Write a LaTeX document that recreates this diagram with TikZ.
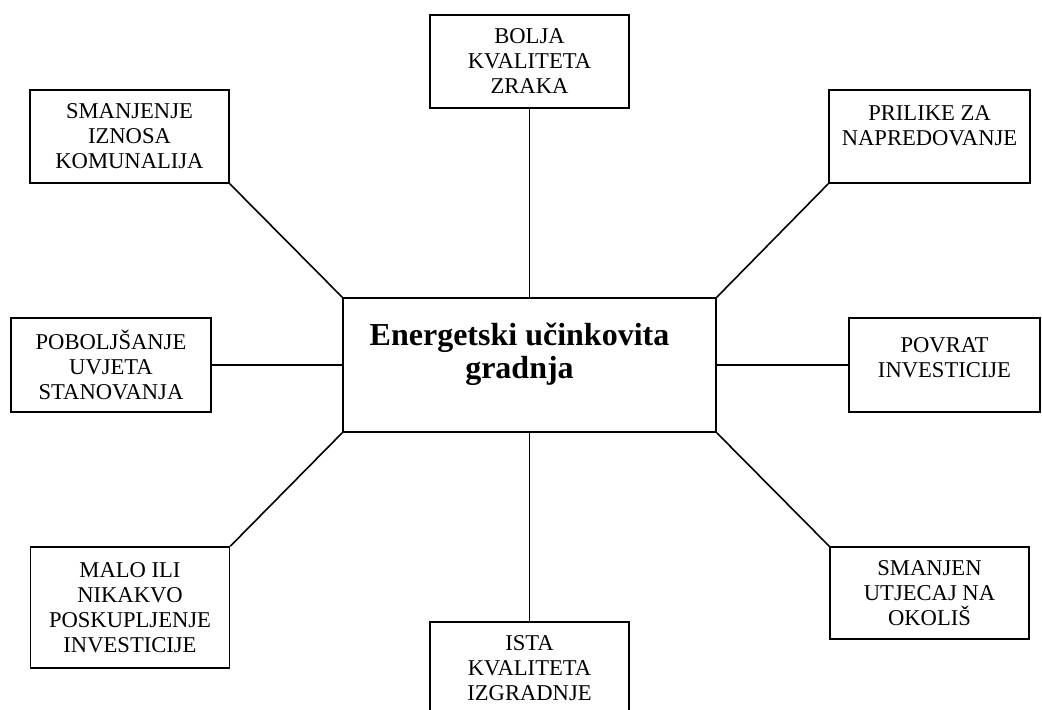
\documentclass[tikz,border=0pt]{standalone}
\usepackage{fontspec}
\setmainfont{Liberation Serif}

\begin{document}
\begin{tikzpicture}[x=0.5pt,y=-0.5pt,thick,
  benefit/.style={draw,rectangle,inner sep=0pt,align=center,minimum width=99.5pt,minimum height=46.5pt,font=\fontsize{11.3}{12.5}\selectfont},
  core/.style={draw,rectangle,inner sep=0pt,align=center,minimum width=186.5pt,minimum height=67pt,font=\fontsize{16}{16.5}\selectfont\bfseries}]
\useasboundingbox (0,0) rectangle (1042,709);
\node[core] (ctr) at (529.5,365) {Energetski učinkovita\rule{10pt}{0pt}\\gradnja\rule{10pt}{0pt}\\[-2pt]\mbox{}};
\node[benefit] (bolja) at (529.5,61.5) {BOLJA\\KVALITETA\\ZRAKA};
\node[benefit] (komunalije) at (129.5,136.5) {SMANJENJE\\IZNOSA\\KOMUNALIJA};
\node[benefit,minimum width=100.5pt] (prilike) at (929.5,136.5) {PRILIKE ZA\\NAPREDOVANJE\\[-2pt]\mbox{}};
\node[benefit,minimum width=100pt,minimum height=47pt] (stanovanje) at (111,365) {POBOLJŠANJE\\UVJETA\\STANOVANJA};
\node[benefit,minimum width=95.5pt,minimum height=47pt] (povrat) at (944.5,365) {POVRAT\\INVESTICIJE\\[-5pt]\mbox{}};
\node[benefit,minimum height=60.5pt] (poskupljenje) at (130,607.5) {MALO ILI\\NIKAKVO\\POSKUPLJENJE\\INVESTICIJE};
\node[benefit,minimum height=46pt] (okolis) at (929.5,593) {SMANJEN\\UTJECAJ NA\\OKOLIŠ};
\node[benefit] (izgradnja) at (529.5,668.5) {ISTA\\KVALITETA\\IZGRADNJE};

\path (ctr.north) edge (bolja.south)
(ctr.north west) edge (komunalije.south east)
(ctr.north east) edge (prilike.south west)
(ctr.west) edge (stanovanje.east)
(ctr.east) edge (povrat.west)
(ctr.south west) edge (poskupljenje.north east)
(ctr.south east) edge (okolis.north west)
(ctr.south) edge (izgradnja.north);
\end{tikzpicture}
\end{document}
